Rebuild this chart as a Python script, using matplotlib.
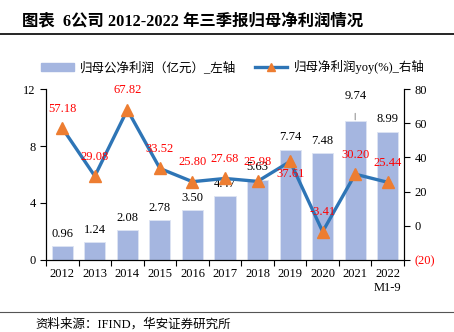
import matplotlib
matplotlib.use("Agg")
import matplotlib.pyplot as plt
from matplotlib.lines import Line2D

plt.rcParams['font.family'] = ['Liberation Serif', 'Noto Sans CJK SC']

years = ['2012', '2013', '2014', '2015', '2016', '2017', '2018', '2019', '2020', '2021', '2022\nM1-9']
profit = [0.96, 1.24, 2.08, 2.78, 3.50, 4.47, 5.63, 7.74, 7.48, 9.74, 8.99]
yoy = [57.18, 29.08, 67.82, 33.52, 25.80, 27.68, 25.98, 37.61, -3.41, 30.20, 25.44]
yoy_below = [False, False, False, False, False, False, False, True, False, False, False]

bar_color = '#A5B6E0'
line_color = '#2E75B6'
marker_color = '#ED7D31'

fig = plt.figure(figsize=(4.54, 3.32), dpi=100)
ax = fig.add_axes([0.1013, 0.2169, 0.7886, 0.5150])
ax2 = ax.twinx()

x = list(range(len(years)))
ax.bar(x, profit, width=0.65, color=bar_color, edgecolor='#DDE4F3', linewidth=0.6, zorder=2)
ax.set_xlim(-0.5, len(years) - 0.5)
ax.set_ylim(0, 12)
ax.set_yticks([0, 4, 8, 12])
# ticks sit on the category boundaries, labels in the middle
ax.set_xticks([i + 0.5 for i in range(-1, len(years))], minor=False)
ax.set_xticklabels([''] * (len(years) + 1))
ax.set_xticks(x, minor=True)
ax.set_xticklabels(years, minor=True)
ax.tick_params(axis='x', which='minor', length=0, labelsize=9, pad=6)
ax.tick_params(axis='x', which='major', length=4, direction='out')
ax.tick_params(axis='y', labelsize=9, length=4, direction='out')

for i, v in enumerate(profit):
    if i == 9:
        ax.annotate(f'{v:.2f}', (i, v), xytext=(0, 18), textcoords='offset points',
                    ha='center', va='center', fontsize=9,
                    arrowprops=dict(arrowstyle='-', color='#888888', lw=0.7,
                                    shrinkA=6, shrinkB=1))
    else:
        ax.annotate(f'{v:.2f}', (i, v), xytext=(0, 9), textcoords='offset points',
                    ha='center', va='center', fontsize=9, zorder=3)

ax2.plot(x, yoy, color=line_color, lw=2.4, marker='^', markersize=8,
         markerfacecolor=marker_color, markeredgecolor=marker_color, zorder=4)
ax2.set_ylim(-20, 80)
ax2.set_yticks([-20, 0, 20, 40, 60, 80])
ax2.set_yticklabels(['(20)', '0', '20', '40', '60', '80'])
ax2.tick_params(axis='y', labelsize=9, length=4, direction='out')
ax2.get_yticklabels()[0].set_color('red')

for i, v in enumerate(yoy):
    dy = -9 if yoy_below[i] else 14
    ax2.annotate(f'{v:.2f}', (i, v), xytext=(0, dy), textcoords='offset points',
                 ha='center', va='center', fontsize=9, color='red', zorder=5)

for a in (ax, ax2):
    a.spines['top'].set_visible(False)
    a.set_facecolor('none')

# legend
handles = [
    plt.Rectangle((0, 0), 1, 1, color=bar_color),
    Line2D([0], [0], color=line_color, lw=2.4, marker='^', markersize=6,
           markerfacecolor=marker_color, markeredgecolor=marker_color),
]
labels = ['归母公净利润（亿元）_左轴', '归母净利润yoy(%)_右轴']
fig.legend(handles, labels, loc='center', bbox_to_anchor=(0.513, 0.798), ncol=2,
           frameon=False, fontsize=9, handlelength=2.6, handleheight=0.6,
           columnspacing=1.5, handletextpad=0.5)

# title and source
fig.text(0.048, 0.934, '图表  6公司 2012-2022 年三季报归母净利润情况', fontsize=11.8,
         fontweight='bold', ha='left', va='center')
fig.add_artist(Line2D([0, 1], [0.898, 0.898], color='black', lw=1.2))
fig.add_artist(Line2D([0, 1], [0.060, 0.060], color='#555555', lw=0.8))
fig.text(0.079, 0.022, '资料来源：IFIND，华安证券研究所', fontsize=9, ha='left', va='center')

fig.savefig('out.png', dpi=100)
